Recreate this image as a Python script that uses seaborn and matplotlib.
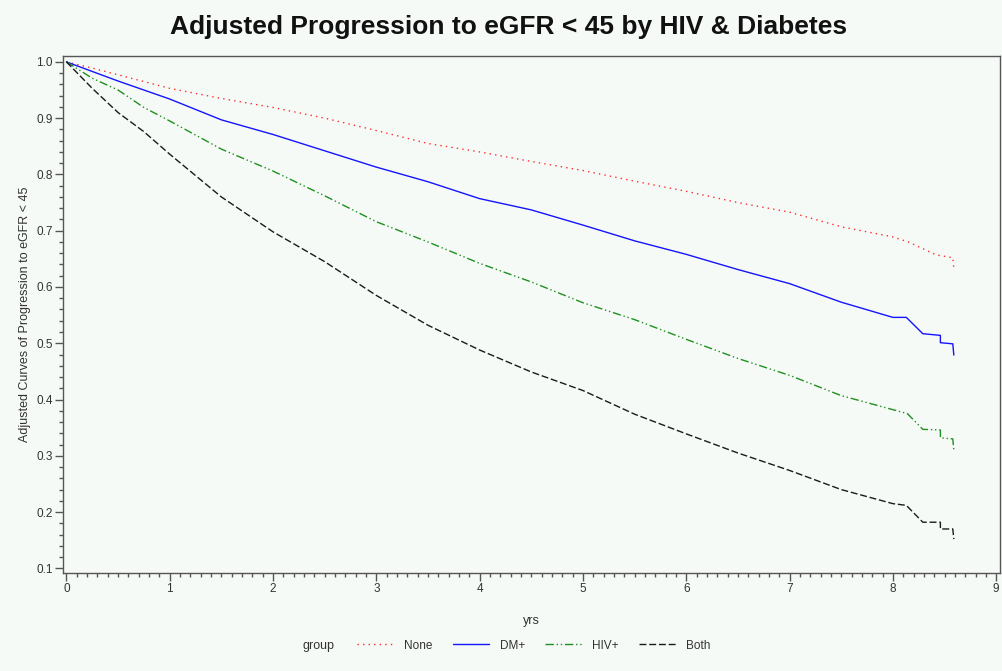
import numpy as np
import pandas as pd
import seaborn as sns
import matplotlib
matplotlib.use("Agg")
import matplotlib.pyplot as plt
from matplotlib.ticker import MultipleLocator

# ---- data ----
groups = ["None", "DM+", "HIV+", "Both"]

yrs_none = [0, 0.25, 0.5, 0.75, 1, 1.5, 2, 2.5, 3, 3.5, 4, 4.5, 5, 5.5, 6, 6.5, 7, 7.5, 8, 8.15, 8.42, 8.58, 8.59]
surv_none = [1.0, 0.989, 0.977, 0.965, 0.953, 0.935, 0.919, 0.900, 0.878, 0.855, 0.840, 0.823, 0.807, 0.788,
             0.770, 0.750, 0.733, 0.707, 0.689, 0.680, 0.657, 0.652, 0.633]

yrs_dm = [0, 0.25, 0.5, 0.75, 1, 1.5, 2, 2.5, 3, 3.5, 4, 4.5, 5, 5.5, 6, 6.5, 7, 7.5, 8, 8.13, 8.29, 8.46, 8.46, 8.58, 8.59]
surv_dm = [1.0, 0.983, 0.966, 0.950, 0.934, 0.897, 0.871, 0.842, 0.813, 0.787, 0.757, 0.737, 0.710, 0.682,
           0.658, 0.631, 0.606, 0.573, 0.546, 0.546, 0.517, 0.514, 0.501, 0.499, 0.479]

yrs_hiv = [0, 0.25, 0.5, 0.75, 1, 1.5, 2, 2.5, 3, 3.5, 4, 4.5, 5, 5.5, 6, 6.5, 7, 7.5, 8, 8.14, 8.29, 8.46, 8.46, 8.58, 8.59]
surv_hiv = [1.0, 0.971, 0.950, 0.919, 0.895, 0.845, 0.806, 0.762, 0.716, 0.680, 0.642, 0.609, 0.572, 0.542,
            0.507, 0.473, 0.443, 0.407, 0.382, 0.375, 0.347, 0.346, 0.332, 0.330, 0.310]

yrs_both = [0, 0.25, 0.5, 0.75, 1, 1.5, 2, 2.5, 3, 3.5, 4, 4.5, 5, 5.5, 6, 6.5, 7, 7.5, 8, 8.13, 8.29, 8.46, 8.46, 8.58, 8.59]
surv_both = [1.0, 0.953, 0.910, 0.876, 0.836, 0.760, 0.698, 0.645, 0.585, 0.532, 0.488, 0.449, 0.416, 0.374,
             0.339, 0.305, 0.274, 0.240, 0.215, 0.212, 0.182, 0.182, 0.170, 0.170, 0.152]

x_ticks = [0, 1, 2, 3, 4, 5, 6, 7, 8, 9]
y_ticks = [0.1, 0.2, 0.3, 0.4, 0.5, 0.6, 0.7, 0.8, 0.9, 1.0]

frames = []
for g, xs, ys in zip(groups, [yrs_none, yrs_dm, yrs_hiv, yrs_both],
                     [surv_none, surv_dm, surv_hiv, surv_both]):
    frames.append(pd.DataFrame({"yrs": xs, "surv": ys, "group": g}))
df = pd.concat(frames, ignore_index=True)

bg = "#f6faf7"
sns.set_theme(style="ticks")
plt.rcParams["font.family"] = ["Liberation Sans", "DejaVu Sans"]

fig = plt.figure(figsize=(10.03, 6.71), dpi=100, facecolor=bg)
ax = fig.add_axes([0.0628, 0.146, 0.934, 0.771])
ax.set_facecolor(bg)

palette = {"None": "#ff2a2a", "DM+": "#1414ff", "HIV+": "#1f8f1f", "Both": "#1a1a1a"}
dashes = {"None": (1, 3), "DM+": "", "HIV+": (6, 2, 1, 2, 1, 2), "Both": (5, 2)}

sns.lineplot(data=df, x="yrs", y="surv", hue="group", style="group", hue_order=groups, style_order=groups,
             palette=palette, dashes=dashes, estimator=None, sort=False, units="group",
             linewidth=1.0, ax=ax, legend=True)

handles, labels = ax.get_legend_handles_labels()
ax.get_legend().remove()

ax.set_xlim(-0.033, 9.035)
ax.set_ylim(0.0917, 1.011)
ax.set_xticks(x_ticks)
ax.set_yticks(y_ticks)
ax.set_yticklabels([f"{v:.1f}" for v in y_ticks])
ax.xaxis.set_minor_locator(MultipleLocator(0.1))
ax.yaxis.set_minor_locator(MultipleLocator(0.02))
ax.tick_params(axis="both", which="major", length=5.5, width=1, color="#555555", labelsize=8.5,
               labelcolor="#333333", pad=2)
ax.tick_params(axis="both", which="minor", length=3, width=1, color="#555555")
for s in ax.spines.values():
    s.set_color("#555555")
    s.set_linewidth(1)
    s.set_visible(True)

ax.set_xlabel("yrs", fontsize=9, color="#333333", labelpad=14)
ax.set_ylabel("Adjusted Curves of Progression to eGFR < 45", fontsize=9, color="#333333", labelpad=4)

fig.suptitle("Adjusted Progression to eGFR < 45 by HIV & Diabetes", fontsize=19, fontweight="bold",
             x=0.507, y=0.978, color="#111111")

fig.text(0.318, 0.038, "group", fontsize=9, color="#333333", ha="center", va="center")
fig.legend(handles, labels, loc="center left", bbox_to_anchor=(0.356, 0.038), ncol=4, frameon=False,
           fontsize=8.5, handlelength=3.1, columnspacing=1.7, handletextpad=0.9,
           labelcolor="#333333", borderaxespad=0, borderpad=0)

fig.savefig("out.png", dpi=100, facecolor=bg)
